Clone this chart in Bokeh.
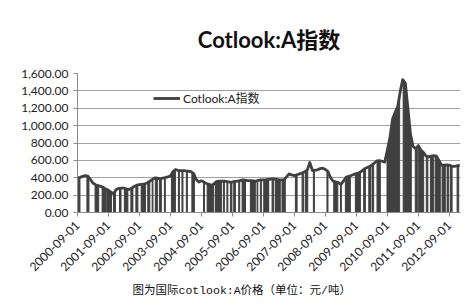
import numpy as np
import pandas as pd
from math import pi
from bokeh.plotting import figure
from bokeh.models import Range1d, FixedTicker, NumeralTickFormatter, DatetimeTickFormatter, Legend, LegendItem, Title
from bokeh.embed import file_html
from bokeh.resources import INLINE

title_text = "Cotlook:A指数"
series_name = "Cotlook:A指数"
caption_text = "图为国际cotlook:A价格（单位：元/吨）"

first_month = "2000-09-01"
# monthly Cotlook:A index readings (start of each month)
values = [
    400, 405, 415, 425, 420, 380, 340, 320, 310, 300, 290, 270,
    255, 235, 215, 265, 278, 280, 280, 272, 265, 280, 300, 315,
    320, 325, 330, 340, 360, 380, 398, 395, 388, 395, 402, 410,
    420, 470, 495, 483, 483, 483, 478, 475, 470, 448, 380, 350,
    365, 350, 332, 325, 310, 335, 358, 362, 360, 360, 355, 350,
    352, 358, 360, 368, 375, 372, 368, 368, 365, 360, 370, 376,
    376, 378, 382, 385, 387, 382, 378, 376, 376, 410, 445, 432,
    425, 435, 445, 455, 470, 490, 575, 483, 487, 491, 505, 510,
    495, 470, 400, 360, 352, 345, 322, 360, 405, 415, 425, 438,
    448, 455, 475, 500, 515, 530, 545, 570, 595, 598, 590, 580,
    720, 860, 1075, 1150, 1220, 1400, 1530, 1490, 1200, 900, 760, 735,
    770, 720, 690, 650, 640, 650, 655, 648, 600, 545, 545, 548,
    545, 532, 530, 538, 545,
]

# stretches with no quotation (plotted as 0 by the source spreadsheet)
gap_starts = [
    "2000-09-12", "2000-12-21", "2001-03-27", "2001-06-18", "2001-08-12", "2001-10-30", "2002-01-09",
    "2002-03-07", "2002-05-23", "2002-07-21", "2002-09-21", "2002-12-08", "2003-01-29",
    "2003-03-07", "2003-04-24", "2003-06-22", "2003-09-13", "2003-12-04", "2004-01-15",
    "2004-03-07", "2004-05-11", "2004-09-25", "2004-11-07", "2005-02-13", "2005-05-17",
    "2005-06-28", "2005-08-08", "2005-09-16", "2005-11-14", "2005-12-24", "2006-03-31",
    "2006-06-18", "2006-07-27", "2006-09-05", "2006-12-12", "2007-01-21", "2007-04-08",
    "2007-09-13", "2007-12-01", "2008-01-09", "2008-04-12", "2008-09-19", "2008-12-08",
    "2009-02-25", "2009-04-24", "2009-08-20", "2009-11-26", "2010-01-25", "2010-03-04",
    "2010-05-02", "2010-08-28", "2011-03-06", "2011-07-27", "2011-09-05", "2011-12-04",
    "2012-01-21", "2012-03-19", "2012-06-07", "2012-08-05", "2012-09-13", "2012-12-01",
]
gap_ends = [
    "2000-09-30", "2001-01-14", "2001-05-09", "2001-08-02", "2001-10-06", "2001-11-22", "2002-01-27",
    "2002-04-18", "2002-06-16", "2002-08-14", "2002-11-11", "2003-01-01", "2003-02-07",
    "2003-03-31", "2003-05-17", "2003-07-03", "2003-10-30", "2003-12-16", "2004-01-27",
    "2004-03-19", "2004-06-10", "2004-10-06", "2005-01-24", "2005-04-24", "2005-05-29",
    "2005-07-09", "2005-08-26", "2005-10-06", "2005-11-26", "2006-02-02", "2006-05-29",
    "2006-06-27", "2006-08-08", "2006-11-03", "2007-01-01", "2007-03-19", "2007-05-17",
    "2007-10-03", "2007-12-20", "2008-02-06", "2008-04-24", "2008-10-01", "2009-01-25",
    "2009-03-08", "2009-06-22", "2009-10-18", "2009-12-16", "2010-02-14", "2010-03-23",
    "2010-06-10", "2011-01-24", "2011-06-10", "2011-08-20", "2011-11-03", "2011-12-22",
    "2012-03-01", "2012-05-17", "2012-07-15", "2012-08-24", "2012-10-03", "2012-12-20",
]

tick_dates = [f"{y}-09-01" for y in range(2000, 2013)]
y_ticks = [0, 200, 400, 600, 800, 1000, 1200, 1400, 1600]
x_end = "2013-01-10"


def to_ms(d):
    return pd.to_datetime(pd.Index(d)).values.astype("datetime64[ms]").astype(np.int64).astype(float)


months = pd.date_range(first_month, periods=len(values), freq="MS")
mx = to_ms(months)
vals = np.array(values, dtype=float)

LINE = "#404040"
GRID = "#a0a0a0"
AXIS = "#8c8c8c"
FONT = "Lato, 'Noto Sans CJK SC'"

p = figure(width=476, height=308, x_axis_type="datetime", output_backend="svg",
           toolbar_location=None, min_border_left=77, min_border_right=16,
           min_border_top=73, min_border_bottom=96,
           x_range=Range1d(to_ms([first_month])[0], to_ms([x_end])[0]),
           y_range=Range1d(0, 1600))
p.outline_line_color = None
p.background_fill_color = "white"
p.border_fill_color = "white"

p.title.text = title_text
p.title.align = "center"
p.title.text_font = FONT
p.title.text_font_size = "22px"
p.title.text_font_style = "bold"
p.title.text_color = "#111111"
p.title.standoff = 42

# gap stretches drawn down to zero
gs = to_ms(gap_starts)
ge = to_ms(gap_ends)
pxs, pys = [], []
for s, e in zip(gs, ge):
    inner = [m for m in mx if s < m < e]
    xs = [s] + inner + [e]
    tops = list(np.interp(xs, mx, vals))
    pxs.append([s] + xs + [e])
    pys.append([0] + tops + [0])
p.patches(pxs, pys, fill_color=LINE, line_color=LINE, line_width=1)

r = p.line(mx, vals, line_color=LINE, line_width=2.8, line_join="round")

p.xgrid.visible = False
p.ygrid.grid_line_color = GRID
p.ygrid.grid_line_width = 1

p.yaxis.ticker = FixedTicker(ticks=y_ticks)
p.yaxis.formatter = NumeralTickFormatter(format="0,0.00")
p.xaxis.ticker = FixedTicker(ticks=list(to_ms(tick_dates)))
p.xaxis.formatter = DatetimeTickFormatter(years="%Y-%m-%d", months="%Y-%m-%d", days="%Y-%m-%d")
p.xaxis.major_label_orientation = pi / 4
for ax in (p.xaxis, p.yaxis):
    ax.axis_line_color = AXIS
    ax.major_tick_line_color = AXIS
    ax.major_tick_in = 0
    ax.major_tick_out = 4
    ax.minor_tick_line_color = None
    ax.major_label_text_font = FONT
    ax.major_label_text_font_size = "12px"
    ax.major_label_text_color = "#222222"
p.yaxis.major_label_standoff = 5
p.xaxis.major_label_standoff = 7

legend = Legend(items=[LegendItem(label=series_name, renderers=[r])], location=(76, 106),
                padding=0, margin=0, border_line_alpha=0, background_fill_alpha=0,
                glyph_width=27, glyph_height=14, label_height=14, label_standoff=3,
                label_text_font=FONT, label_text_font_size="12px", label_text_color="#222222")
p.add_layout(legend, "center")

caption = Title(text=caption_text, align="left", offset=55, standoff=8,
                text_font="'Liberation Mono', 'Noto Sans CJK SC'", text_font_size="11.5px",
                text_font_style="normal", text_color="#111111")
p.add_layout(caption, "below")

open("out.html", "w").write(file_html(p, INLINE))
